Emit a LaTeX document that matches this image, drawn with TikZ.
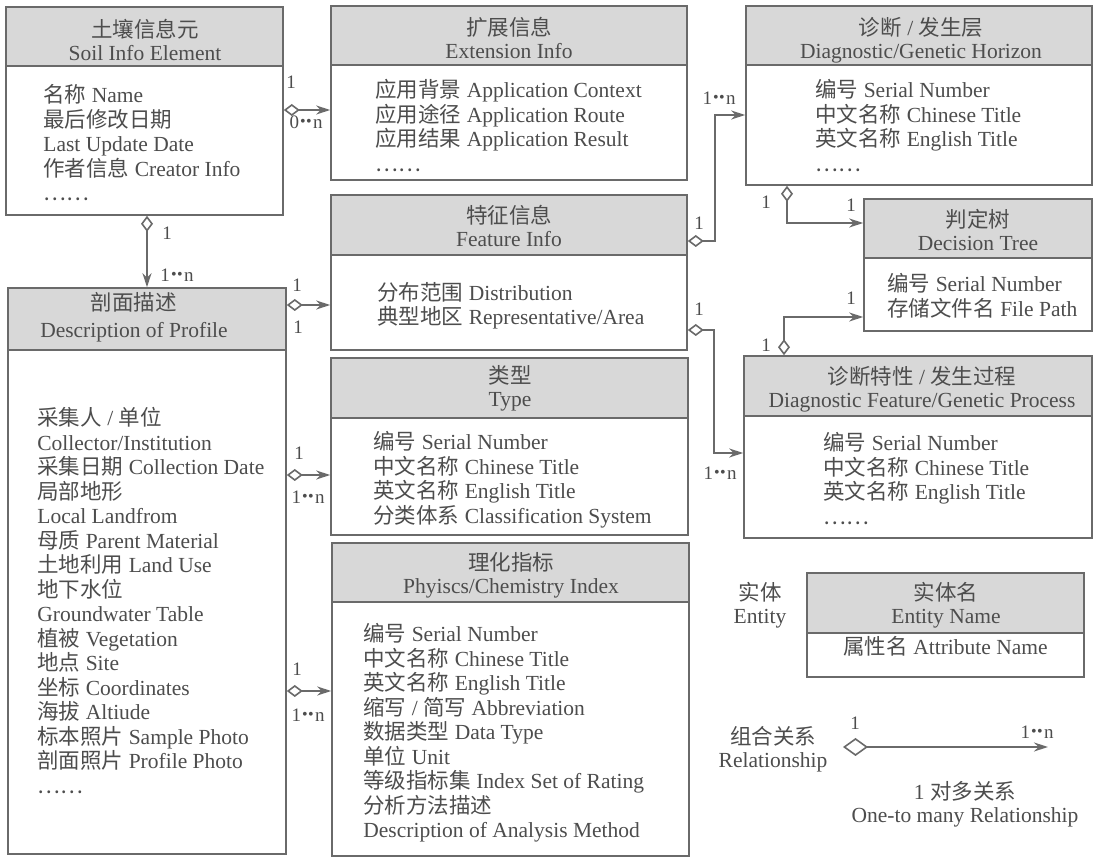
\documentclass[tikz,border=0pt]{standalone}
\usepackage{fontspec}
\setmainfont{Liberation Serif}
\newfontfamily\cjkfont{Noto Sans CJK SC}
\newcommand\zh[1]{{\cjkfont #1}}
\newcommand\dd{\kern.6pt\raisebox{0.9pt}{\fontsize{8}{8}\selectfont\textbullet\kern.2pt\textbullet}\kern.6pt}
\usetikzlibrary{fit,arrows.meta}
\definecolor{ink}{HTML}{4D4D4D}
\definecolor{edge}{HTML}{6A6A6A}
\definecolor{hfill}{HTML}{D8D8D8}
\begin{document}
\begin{tikzpicture}[x=0.5pt,y=-0.5pt,
  hdr/.style={draw=edge, line width=0.8pt, fill=hfill, inner sep=0pt},
  htext/.style={inner sep=0pt, anchor=north, align=center, text=ink, font=\fontsize{10.75}{11.5}\selectfont},
  bodybox/.style={draw=edge, line width=0.8pt, fill=white, inner sep=0pt, align=center, text=ink, font=\fontsize{10.75}{12.25}\selectfont},
  attrs/.style={inner sep=0pt, anchor=north west, align=left, text=ink, font=\fontsize{10.75}{12.25}\selectfont},
  lbl/.style={inner sep=0pt, text=ink, font=\fontsize{9.5}{10}\selectfont},
  txt/.style={inner sep=0pt, align=center, text=ink, font=\fontsize{10.75}{11.5}\selectfont},
  rel/.style={draw=edge, line width=0.8pt, {Diamond[open,length=8pt,width=6pt]}-{Stealth[length=7pt,width=4.5pt]}},
  relbig/.style={draw=edge, line width=0.8pt, {Diamond[open,length=12.5pt,width=9pt]}-{Stealth[length=7pt,width=4.5pt]}}
]
\useasboundingbox (0,0) rectangle (1099,860);
\fill[white] (0,0) rectangle (1099,860);

% ---- boxes ----
% B1 soil info element
\node[hdr, fit={(6,7) (283,66)}] (b1h) {};
\node[htext] (b1ht) at (145,19) {\zh{土壤信息元}\\Soil Info Element};
\node[bodybox, fit={(6,66) (283,215)}] (b1b) {};
\node[attrs] (b1t) at (43,84) {\zh{名称} Name\\\zh{最后修改日期}\\Last Update Date\\\zh{作者信息} Creator Info\\\zh{……}};

% B2 extension info
\node[hdr, fit={(331,6) (687,65)}] (b2h) {};
\node[htext] (b2ht) at (509,17) {\zh{扩展信息}\\Extension Info};
\node[bodybox, fit={(331,65) (687,180)}] (b2b) {};
\node[attrs] (b2t) at (375,79) {\zh{应用背景} Application Context\\\zh{应用途径} Application Route\\\zh{应用结果} Application Result\\\zh{……}};

% B3 diagnostic / genetic horizon
\node[hdr, fit={(746,6) (1092,65)}] (b3h) {};
\node[htext] (b3ht) at (921,17) {\zh{诊断} / \zh{发生层}\\Diagnostic/Genetic Horizon};
\node[bodybox, fit={(746,65) (1092,185)}] (b3b) {};
\node[attrs] (b3t) at (815,79) {\zh{编号} Serial Number\\\zh{中文名称} Chinese Title\\\zh{英文名称} English Title\\\zh{……}};

% B4 decision tree
\node[hdr, fit={(864,199) (1092,258)}] (b4h) {};
\node[htext] (b4ht) at (978,209) {\zh{判定树}\\Decision Tree};
\node[bodybox, fit={(864,258) (1092,331)}] (b4b) {};
\node[attrs] (b4t) at (887,273) {\zh{编号} Serial Number\\\zh{存储文件名} File Path};

% B5 feature info
\node[hdr, fit={(331,195) (687,255)}] (b5h) {};
\node[htext] (b5ht) at (509,205) {\zh{特征信息}\\Feature Info};
\node[bodybox, fit={(331,255) (687,350)}] (b5b) {};
\node[attrs] (b5t) at (377,282) {\zh{分布范围} Distribution\\\zh{典型地区} Representative/Area};

% B6 type
\node[hdr, fit={(331,358) (688,418)}] (b6h) {};
\node[htext] (b6ht) at (510,365) {\zh{类型}\\Type};
\node[bodybox, fit={(331,418) (688,535)}] (b6b) {};
\node[attrs] (b6t) at (373,431) {\zh{编号} Serial Number\\\zh{中文名称} Chinese Title\\\zh{英文名称} English Title\\\zh{分类体系} Classification System};

% B7 physics/chemistry index
\node[hdr, fit={(332,543) (689,602)}] (b7h) {};
\node[htext] (b7ht) at (511,552) {\zh{理化指标}\\Phyiscs/Chemistry Index};
\node[bodybox, fit={(332,602) (689,856)}] (b7b) {};
\node[attrs] (b7t) at (363,623) {\zh{编号} Serial Number\\\zh{中文名称} Chinese Title\\\zh{英文名称} English Title\\\zh{缩写} / \zh{简写} Abbreviation\\\zh{数据类型} Data Type\\\zh{单位} Unit\\\zh{等级指标集} Index Set of Rating\\\zh{分析方法描述}\\Description of Analysis Method};

% B8 description of profile
\node[hdr, fit={(8,288) (286,350)}] (b8h) {};
\node[htext, font=\fontsize{10.75}{13.5}\selectfont] (b8ht) at (134,292) {\zh{剖面描述}\\Description of Profile};
\node[bodybox, fit={(8,350) (286,854)}] (b8b) {};
\node[attrs] (b8t) at (37,407) {\zh{采集人} / \zh{单位}\\Collector/Institution\\\zh{采集日期} Collection Date\\\zh{局部地形}\\Local Landfrom\\\zh{母质} Parent Material\\\zh{土地利用} Land Use\\\zh{地下水位}\\Groundwater Table\\\zh{植被} Vegetation\\\zh{地点} Site\\\zh{坐标} Coordinates\\\zh{海拔} Altiude\\\zh{标本照片} Sample Photo\\\zh{剖面照片} Profile Photo\\\zh{……}};

% B9 diagnostic feature / genetic process
\node[hdr, fit={(744,356) (1092,416)}] (b9h) {};
\node[htext] (b9ht) at (922,366) {\zh{诊断特性} / \zh{发生过程}\\Diagnostic Feature/Genetic Process};
\node[bodybox, fit={(744,416) (1092,538)}] (b9b) {};
\node[attrs] (b9t) at (823,432) {\zh{编号} Serial Number\\\zh{中文名称} Chinese Title\\\zh{英文名称} English Title\\\zh{……}};

% B10 legend entity
\node[hdr, fit={(807,573) (1084,633)}] (b10h) {};
\node[htext] (b10ht) at (946,582) {\zh{实体名}\\Entity Name};
\node[bodybox, fit={(807,633) (1084,677)}] (b10b) {\zh{属性名} Attribute Name};

% ---- connectors ----
\draw[rel] (b1b.east |- 0,110) -- (b2b.west |- 0,110);
\node[lbl] (l1a) at (291,82) {1};
\node[lbl] (l1b) at (306,122) {0\dd n};

\draw[rel] (b1b.south -| 147,0) -- (b8h.north -| 147,0);
\node[lbl] (l2a) at (167,233) {1};
\node[lbl] (l2b) at (177,275) {1\dd n};

\draw[rel] (b8h.east |- 0,305) -- (b5b.west |- 0,305);
\node[lbl] (l3a) at (297,285) {1};
\node[lbl] (l3b) at (298,327) {1};

\draw[rel] (b8b.east |- 0,475) -- (b6b.west |- 0,475);
\node[lbl] (l4a) at (299,453) {1};
\node[lbl] (l4b) at (308,497) {1\dd n};

\draw[rel] (b8b.east |- 0,691) -- (b7b.west |- 0,691);
\node[lbl] (l5a) at (297,669) {1};
\node[lbl] (l5b) at (308,715) {1\dd n};

\coordinate (k6) at (715,241);
\draw[rel] (b5h.east |- k6) -- (k6) |- (b3b.west |- 0,115);
\node[lbl] (l6a) at (699,223) {1};
\node[lbl] (l6b) at (719,98) {1\dd n};

\coordinate (k7) at (714,330);
\draw[rel] (b5b.east |- k7) -- (k7) |- (b9b.west |- 0,453);
\node[lbl] (l7a) at (699,309) {1};
\node[lbl] (l7b) at (720,473) {1\dd n};

\draw[rel] (b3b.south -| 787,0) |- (b4h.west |- 0,223);
\node[lbl] (l8a) at (766,202) {1};
\node[lbl] (l8b) at (851,205) {1};

\draw[rel] (b9h.north -| 784,0) |- (b4b.west |- 0,317);
\node[lbl] (l9a) at (766,345) {1};
\node[lbl] (l9b) at (851,298) {1};

% ---- legend ----
\node[txt] (lg1) at (760,605) {\zh{实体}\\Entity};
\node[txt] (lg2) at (773,749) {\zh{组合关系}\\Relationship};
\coordinate (ls) at (843,747);
\coordinate (le) at (1048,747);
\draw[relbig] (ls) -- (le);
\node[lbl] (lg3) at (855,723) {1};
\node[lbl] (lg4) at (1037,732) {1\dd n};
\node[txt] (lg5) at (965,804) {1 \zh{对多关系}\\One-to many Relationship};
\end{tikzpicture}
\end{document}
